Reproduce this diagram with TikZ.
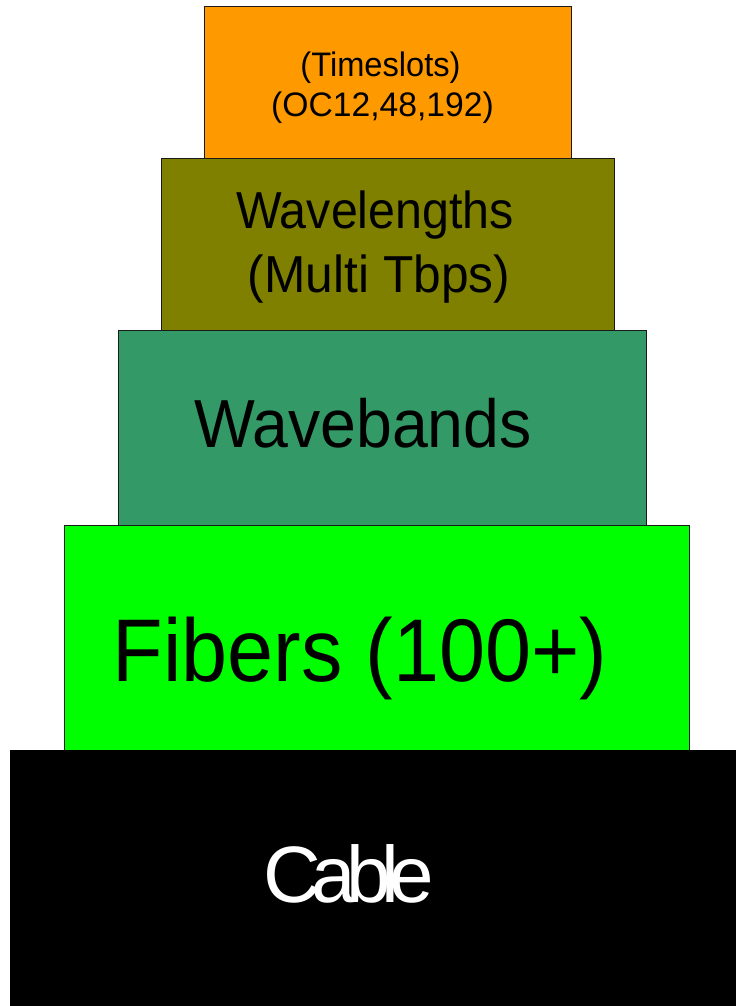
\documentclass[tikz,border=0pt]{standalone}
\usepackage{fontspec}
\usepackage{graphicx}
\setmainfont{Liberation Sans}
\newfontfamily\tightfont[LetterSpace=-12]{Liberation Sans}
\definecolor{cOrange}{HTML}{FF9900}
\definecolor{cOlive}{HTML}{808000}
\definecolor{cTeal}{HTML}{339966}
\definecolor{cGreen}{HTML}{00FF00}
\definecolor{cEdge}{HTML}{1A1A1A}
\tikzset{
  layer/.style={draw=cEdge, line width=1pt, inner sep=0pt, outer sep=0pt, rectangle},
  lbl/.style={anchor=base, inner sep=0pt, text=black},
}
\newcommand{\fs}[1]{\fontsize{#1}{#1}\selectfont}
\begin{document}
\begin{tikzpicture}[x=1pt, y=-1pt]
\useasboundingbox (0,0) rectangle (736,1006);
% boxes
\node[layer, fill=cOrange, minimum width=367pt, minimum height=151pt] (timeslots) at (387.5,82.5) {};
\node[layer, fill=cOlive, minimum width=453pt, minimum height=172pt] (wavelengths) at (387.5,244) {};
\node[layer, fill=cTeal, minimum width=528pt, minimum height=195pt] (wavebands) at (382,427.5) {};
\node[layer, fill=cGreen, minimum width=625pt, minimum height=225pt] (fibers) at (376.5,637.5) {};
\node[layer, draw=none, fill=black, minimum width=726pt, minimum height=256pt] (cable) at (373,878) {};
% labels
\node[lbl] (t1) at (380.5,77) {\fs{34}\scalebox{0.96}[1]{(Timeslots)}};
\node[lbl] (t2) at (382.5,117) {\fs{34}\scalebox{0.99}[1]{(OC12,48,192)}};
\node[lbl] (w1) at (375,228) {\fs{52}\scalebox{0.93}[1]{Wavelengths}};
\node[lbl] (w2) at (379,292) {\fs{52}\scalebox{0.955}[1]{(Multi Tbps)}};
\node[lbl] (wb) at (363,447) {\fs{68}\scalebox{0.947}[1]{Wavebands}};
\node[lbl] (fb) at (360,681) {\fs{89}\scalebox{0.93}[1]{Fibers (100+)}};
\node[lbl, text=white] (cb) at (348.5,902) {\tightfont\fs{80}Cable};
\end{tikzpicture}
\end{document}
